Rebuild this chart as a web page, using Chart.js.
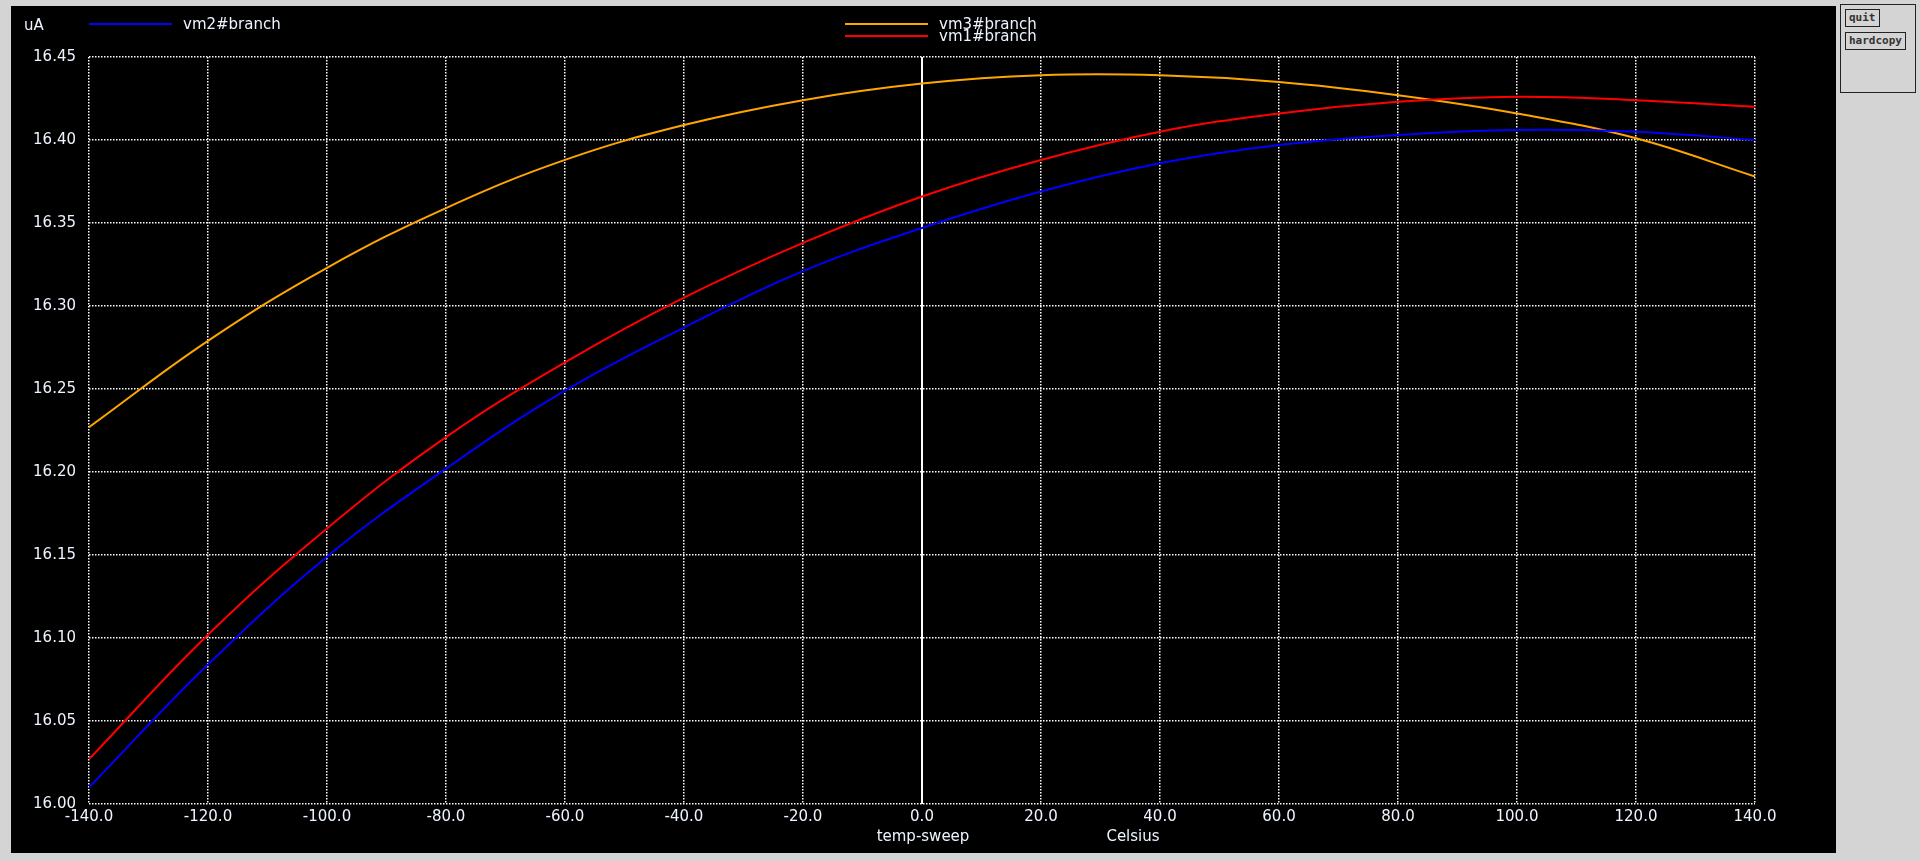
<!DOCTYPE html>
<html>
<head>
<meta charset="utf-8">
<script src="https://cdn.jsdelivr.net/npm/chart.js@4.4.1/dist/chart.umd.min.js"></script>
<style>
  body { margin: 0; background: #d4d4d4; overflow: hidden; }
  #wrap { position: absolute; left: 0; top: 0; width: 1920px; height: 861px; }
  #panel { position: absolute; left: 1840px; top: 4px; width: 74px; height: 87px; border: 1px solid #222; background: #d4d4d4; }
  .btn { position: absolute; left: 4px; border: 1px solid #222; font: bold 11px "DejaVu Sans Mono", monospace; color: #333; padding: 1px 3px; line-height: 14px; }
</style>
</head>
<body>
<div id="wrap"><canvas id="chart" width="1920" height="861"></canvas></div>
<div id="panel">
  <div class="btn" style="top:4px">quit</div>
  <div class="btn" style="top:27px">hardcopy</div>
</div>
<script>
// temperatura en Celsius
const temps = [-140, -120, -100, -80, -60, -40, -20, 0, 20, 40, 60, 80, 100, 120, 140];
const vm1 = [16.027, 16.102, 16.166, 16.221, 16.266, 16.305, 16.338, 16.366, 16.388, 16.405, 16.416, 16.423, 16.426, 16.424, 16.420];
const vm2 = [16.010, 16.084, 16.149, 16.202, 16.249, 16.287, 16.321, 16.347, 16.369, 16.386, 16.397, 16.403, 16.406, 16.405, 16.400];
const vm3 = [16.227, 16.279, 16.323, 16.359, 16.388, 16.409, 16.424, 16.434, 16.439, 16.439, 16.435, 16.427, 16.416, 16.401, 16.378];
const xTicks = [-140, -120, -100, -80, -60, -40, -20, 0, 20, 40, 60, 80, 100, 120, 140];
const yTicks = [16.00, 16.05, 16.10, 16.15, 16.20, 16.25, 16.30, 16.35, 16.40, 16.45];

const textColor = '#eef4ff';
const font = '15px "DejaVu Sans"';

const toPoints = arr => arr.map((v, i) => ({ x: temps[i], y: v }));

/* fondo negro, leyenda y textos del eje */
const frame = {
    id: 'frame',
    beforeDraw(chart) {
        const ctx = chart.ctx;
        ctx.save();
        ctx.fillStyle = '#d4d4d4';
        ctx.fillRect(0, 0, 1920, 861);
        ctx.fillStyle = '#000';
        ctx.fillRect(11, 6, 1825, 847);
        ctx.restore();
    },
    beforeDatasetsDraw(chart) {
        const { ctx, chartArea, scales } = chart;
        const x0 = Math.round(scales.x.getPixelForValue(0));
        ctx.save();
        ctx.strokeStyle = '#fff';
        ctx.lineWidth = 2;
        ctx.beginPath();
        ctx.moveTo(x0, chartArea.top);
        ctx.lineTo(x0, chartArea.bottom);
        ctx.stroke();
        ctx.restore();
    },
    afterDraw(chart) {
        const ctx = chart.ctx;
        const ds = chart.data.datasets;
        ctx.save();
        ctx.font = font;
        ctx.fillStyle = textColor;
        ctx.textBaseline = 'middle';
        ctx.fillText('uA', 24, 26);
        const legend = [
            { d: ds[1], x: 89, y: 24 },
            { d: ds[2], x: 845, y: 24 },
            { d: ds[0], x: 845, y: 36 }
        ];
        legend.forEach(item => {
            ctx.strokeStyle = item.d.borderColor;
            ctx.lineWidth = 2;
            ctx.beginPath();
            ctx.moveTo(item.x, item.y);
            ctx.lineTo(item.x + 83, item.y);
            ctx.stroke();
            ctx.fillStyle = textColor;
            ctx.fillText(item.d.label, item.x + 94, item.y + 1);
        });
        ctx.textAlign = 'center';
        ctx.fillText('temp-sweep', 923, 837);
        ctx.fillText('Celsius', 1133, 837);
        ctx.restore();
    }
};

const data = {
    datasets: [
        { label: 'vm1#branch', data: toPoints(vm1), borderColor: '#ff0000' },
        { label: 'vm2#branch', data: toPoints(vm2), borderColor: '#0000ff' },
        { label: 'vm3#branch', data: toPoints(vm3), borderColor: '#ffa500' }
    ].map(d => ({ ...d, borderWidth: 2, pointRadius: 0, fill: false, tension: 0.4 }))
};

const gridOpts = { color: '#ffffff', lineWidth: 1.5, drawTicks: false };

const config = {
    type: 'line',
    data: data,
    options: {
        responsive: false,
        animation: false,
        events: [],
        layout: { padding: { left: 11, right: 165, top: 57, bottom: 8 } },
        plugins: { legend: { display: false }, tooltip: { enabled: false } },
        scales: {
            x: {
                type: 'linear',
                min: -140,
                max: 140,
                afterBuildTicks: s => { s.ticks = xTicks.map(v => ({ value: v })); },
                afterFit: s => { s.height = 49; },
                grid: gridOpts,
                border: { display: false, dash: [1.5, 1.5] },
                ticks: { color: textColor, font: { family: 'DejaVu Sans', size: 15 }, padding: 4, maxRotation: 0, autoSkip: false, callback: v => v.toFixed(1) }
            },
            y: {
                min: 16.00,
                max: 16.45,
                afterBuildTicks: s => { s.ticks = yTicks.map(v => ({ value: v })); },
                afterFit: s => { s.width = 78; },
                grid: gridOpts,
                border: { display: false, dash: [1.5, 1.5] },
                ticks: { color: textColor, font: { family: 'DejaVu Sans', size: 15 }, padding: 13, autoSkip: false, callback: v => v.toFixed(2) }
            }
        }
    },
    plugins: [frame]
};

new Chart(document.querySelector('#chart'), config);
</script>
</body>
</html>
